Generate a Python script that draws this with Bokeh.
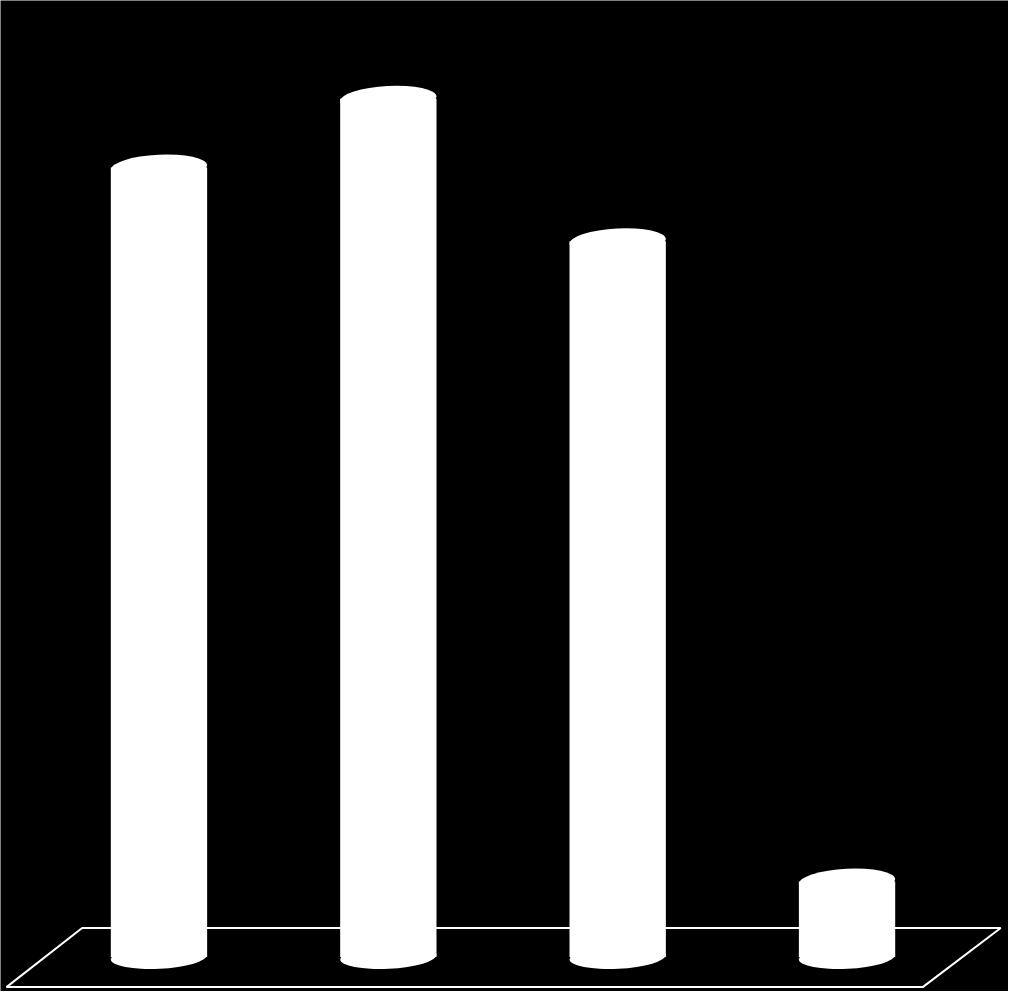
from bokeh.plotting import figure
from bokeh.models import ColumnDataSource, Range1d
from bokeh.embed import file_html
from bokeh.resources import INLINE

# bar values (no labels in the original)
categories = ["A", "B", "C", "D"]
values = [46.0, 50.0, 41.7, 4.4]
xpos = [0, 1, 2, 3]

# floor outline (parallelogram) corners in data units
floor_x = [-0.335, 3.670, 3.330, -0.665]
floor_y = [1.69, 1.69, -1.75, -1.75]

# fit inside the window (8px page margin on each side)
W, H = 1008, 991
k = W / 1024

p = figure(width=W, height=H, x_range=Range1d(-0.691, 3.704), y_range=Range1d(-2.007, 55.73),
           output_backend="svg", toolbar_location=None, min_border=0)
p.background_fill_color = "black"
p.border_fill_color = "black"
p.outline_line_color = None
p.axis.visible = False
p.grid.visible = False

# floor, drawn first so the bars cover its back edge
p.patch(floor_x, floor_y, fill_color=None, line_color="white", line_width=2)

src = ColumnDataSource(data=dict(x=xpos, top=values, base=[0] * len(values), cat=categories))

# cylinders: body + bottom and top ellipses
p.vbar(x="x", top="top", bottom="base", width=0.42, source=src, fill_color="white", line_color=None)
p.ellipse(x="x", y="base", width=98 * k, height=24 * k, width_units="screen", height_units="screen",
          angle=0.05, source=src, fill_color="white", line_color=None)
p.ellipse(x="x", y="top", width=98 * k, height=26 * k, width_units="screen", height_units="screen",
          angle=0.05, source=src, fill_color="white", line_color=None)

open("out.html", "w").write(file_html(p, INLINE))
